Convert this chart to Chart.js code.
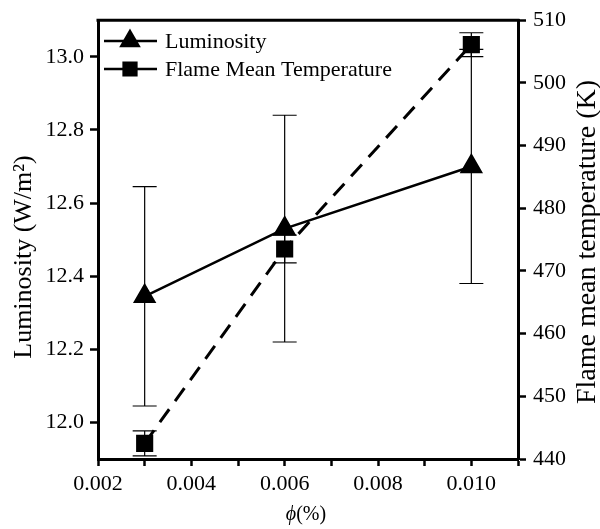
<!DOCTYPE html>
<html>
<head>
<meta charset="utf-8">
<script src="https://cdn.jsdelivr.net/npm/chart.js@4.4.1/dist/chart.umd.min.js"></script>
<style>
  html, body { margin: 0; padding: 0; background: #fff; }
  #wrap { width: 600px; height: 529px; }
</style>
</head>
<body>
<div id="wrap"><canvas id="chart" width="600" height="529"></canvas></div>
<script>
// phi (%) values
var phi = [0.003, 0.006, 0.010];
// luminosity (W/m2) and its error
var luminosity = [12.345, 12.53, 12.70];
var lumErr = [0.30, 0.31, 0.32];
// flame mean temperature (K) and its error
var temperature = [442.5, 473.5, 506.1];
var tempErr = [2.0, 2.2, 1.9];

var xTicks = [0.002, 0.004, 0.006, 0.008, 0.010];
var leftTicks = [12.0, 12.2, 12.4, 12.6, 12.8, 13.0];
var rightTicks = [440, 450, 460, 470, 480, 490, 500, 510];

var leftTitle = 'Luminosity (W/m²)';
var rightTitle = 'Flame mean temperature (K)';

var serif = "'Liberation Serif', 'Times New Roman', serif";

var extras = {
  id: 'extras',
  beforeDatasetsDraw: function(chart) {
    var ctx = chart.ctx;
    var xs = chart.scales.x;
    var sets = [
      { vals: luminosity, err: lumErr, y: chart.scales.yL },
      { vals: temperature, err: tempErr, y: chart.scales.yR }
    ];
    ctx.save();
    ctx.strokeStyle = '#000';
    ctx.lineWidth = 1.2;
    sets.forEach(function(s) {
      for (var i = 0; i < phi.length; i++) {
        var px = xs.getPixelForValue(phi[i]);
        var top = s.y.getPixelForValue(s.vals[i] + s.err[i]);
        var bot = s.y.getPixelForValue(s.vals[i] - s.err[i]);
        ctx.beginPath();
        ctx.moveTo(px, top); ctx.lineTo(px, bot);
        ctx.moveTo(px - 12, top); ctx.lineTo(px + 12, top);
        ctx.moveTo(px - 12, bot); ctx.lineTo(px + 12, bot);
        ctx.stroke();
      }
    });
    ctx.restore();
  },
  afterDraw: function(chart) {
    var ctx = chart.ctx;
    var a = chart.chartArea;
    ctx.save();
    // top frame line
    ctx.strokeStyle = '#000';
    ctx.lineWidth = 3;
    ctx.beginPath();
    ctx.moveTo(a.left - 1.5, a.top); ctx.lineTo(a.right + 1.5, a.top);
    ctx.stroke();

    ctx.fillStyle = '#000';
    ctx.textBaseline = 'middle';

    // x title: italic phi, upright (%)
    ctx.font = 'italic 20px ' + serif;
    var w1 = ctx.measureText('ϕ').width;
    ctx.font = '20px ' + serif;
    var w2 = ctx.measureText('(%)').width;
    var x0 = (a.left + a.right) / 2 - 2 - (w1 + w2) / 2;
    ctx.textAlign = 'left';
    ctx.font = 'italic 20px ' + serif;
    ctx.fillText('ϕ', x0, 515);
    ctx.font = '20px ' + serif;
    ctx.fillText('(%)', x0 + w1, 515);

    // y axis titles, both reading bottom to top
    ctx.textAlign = 'center';
    ctx.save();
    ctx.translate(24, 257);
    ctx.rotate(-Math.PI / 2);
    ctx.font = '26px ' + serif;
    ctx.fillText(leftTitle, 0, 0);
    ctx.restore();
    ctx.save();
    ctx.translate(588, 242);
    ctx.rotate(-Math.PI / 2);
    ctx.font = '28px ' + serif;
    ctx.fillText(rightTitle, 0, 0);
    ctx.restore();

    // legend inside the plot
    var rows = [
      { label: chart.data.datasets[0].label, style: 'triangle', r: 10, y: 41 },
      { label: chart.data.datasets[1].label, style: 'rect', r: 9, y: 69 }
    ];
    rows.forEach(function(row) {
      ctx.strokeStyle = '#000';
      ctx.lineWidth = 2.5;
      ctx.setLineDash([]);
      ctx.beginPath();
      ctx.moveTo(104, row.y); ctx.lineTo(157, row.y);
      ctx.stroke();
      ctx.fillStyle = '#000';
      Chart.helpers.drawPoint(ctx, { pointStyle: row.style, radius: row.r, borderWidth: 1 }, 130, row.y);
      ctx.fill();
      ctx.font = '22px ' + serif;
      ctx.textBaseline = 'middle';
      ctx.textAlign = 'left';
      ctx.fillText(row.label, 165, row.y + 1);
    });
    ctx.restore();
  }
};

var chart = new Chart(document.getElementById('chart'), {
  type: 'line',
  data: {
    datasets: [
      {
        label: 'Luminosity',
        data: phi.map(function(x, i) { return { x: x, y: luminosity[i] }; }),
        yAxisID: 'yL',
        borderColor: '#000',
        backgroundColor: '#000',
        borderWidth: 2.5,
        pointStyle: 'triangle',
        pointRadius: 11,
        pointHoverRadius: 11,
        tension: 0
      },
      {
        label: 'Flame Mean Temperature',
        data: phi.map(function(x, i) { return { x: x, y: temperature[i] }; }),
        yAxisID: 'yR',
        borderColor: '#000',
        backgroundColor: '#000',
        borderWidth: 3,
        borderDash: [16, 10],
        pointStyle: 'rect',
        pointRadius: 10,
        pointHoverRadius: 10,
        tension: 0
      }
    ]
  },
  options: {
    responsive: false,
    animation: false,
    layout: { padding: { top: 16, left: 0, right: 0, bottom: 0 } },
    plugins: { legend: { display: false }, tooltip: { enabled: false } },
    scales: {
      x: {
        type: 'linear',
        min: 0.002, max: 0.011,
        afterFit: function(s) { s.height = 70; },
        afterBuildTicks: function(s) {
          var t = [];
          for (var k = 2; k <= 11; k++) t.push({ value: k / 1000 });
          s.ticks = t;
        },
        ticks: {
          color: '#000',
          font: { family: serif, size: 22 },
          padding: 5,
          maxRotation: 0,
          autoSkip: false,
          callback: function(v) {
            var hit = xTicks.some(function(t) { return Math.abs(t - v) < 1e-9; });
            return hit ? v.toFixed(3) : '';
          }
        },
        grid: { drawOnChartArea: false, drawTicks: true, tickLength: 7, tickColor: '#000', tickWidth: 2.5 },
        border: { display: true, color: '#000', width: 3 }
      },
      yL: {
        position: 'left',
        min: 11.9, max: 13.1,
        afterFit: function(s) { s.width = 98; },
        afterBuildTicks: function(s) {
          s.ticks = leftTicks.map(function(v) { return { value: v }; });
        },
        ticks: {
          color: '#000',
          font: { family: serif, size: 22 },
          padding: 6,
          callback: function(v) { return v.toFixed(1); }
        },
        grid: { drawOnChartArea: false, drawTicks: true, tickLength: 8, tickColor: '#000', tickWidth: 2.5 },
        border: { display: true, color: '#000', width: 3 }
      },
      yR: {
        position: 'right',
        min: 440, max: 510,
        afterFit: function(s) { s.width = 82; },
        afterBuildTicks: function(s) {
          s.ticks = rightTicks.map(function(v) { return { value: v }; });
        },
        ticks: {
          color: '#000',
          font: { family: serif, size: 22 },
          padding: 7
        },
        grid: { drawOnChartArea: false, drawTicks: true, tickLength: 8, tickColor: '#000', tickWidth: 2.5 },
        border: { display: true, color: '#000', width: 3 }
      }
    }
  },
  plugins: [extras]
});
</script>
</body>
</html>
